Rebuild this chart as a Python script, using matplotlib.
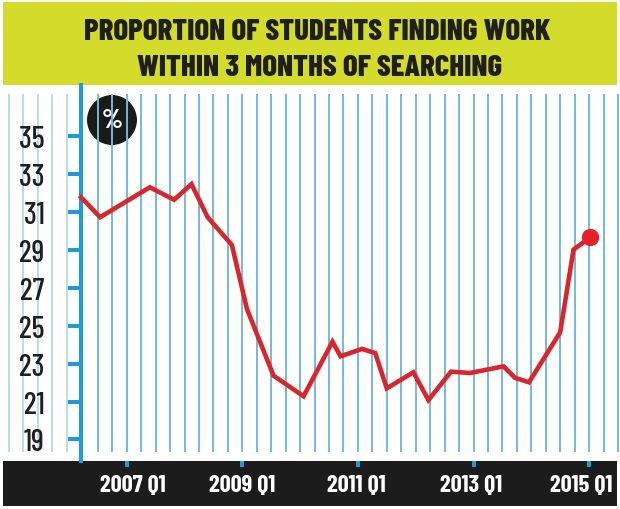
import matplotlib
matplotlib.use("Agg")
import matplotlib.pyplot as plt
from matplotlib import font_manager
from matplotlib.patches import Rectangle, Circle
from matplotlib.transforms import ScaledTranslation

# ---------------- data ----------------
years = [2006.21, 2006.54, 2007.40, 2007.82, 2008.12, 2008.40, 2008.82, 2009.08,
         2009.54, 2010.06, 2010.56, 2010.70, 2011.07, 2011.30, 2011.50, 2011.96,
         2012.22, 2012.61, 2012.94, 2013.52, 2013.72, 2013.96, 2014.50, 2014.73,
         2015.02]
values = [31.78, 30.73, 32.31, 31.65, 32.48, 30.73, 29.26, 25.89,
          22.37, 21.28, 24.16, 23.39, 23.78, 23.56, 21.70, 22.55,
          21.08, 22.58, 22.51, 22.86, 22.25, 22.02, 24.66, 29.02,
          29.67]
y_ticks = [19, 21, 23, 25, 27, 29, 31, 33, 35]
x_tick_years = [2007, 2009, 2011, 2013, 2015]
x_tick_labels = ["2007 Q1", "2009 Q1", "2011 Q1", "2013 Q1", "2015 Q1"]
title_lines = ["PROPORTION OF STUDENTS FINDING WORK", "WITHIN 3 MONTHS OF SEARCHING"]
unit_label = "%"

# ---------------- fonts ----------------
names = {f.name for f in font_manager.fontManager.ttflist}
FONT = "DejaVu Sans"
for cand in ["Barlow Condensed", "Archivo Narrow", "Asap Condensed",
             "Liberation Sans Narrow", "DejaVu Sans"]:
    if cand in names:
        FONT = cand
        break
FAM = [FONT, "DejaVu Sans"]

# ---------------- colours ----------------
BLUE = "#1b9bd7"
GRID = "#74b9d8"
GRID_LIGHT = "#b9dced"
RED = "#d8262c"
DOT = "#e5222b"
BAND = "#d4dc2b"
DARK = "#1c1c1c"
INK = "#1f1f1f"

W, H = 620, 510
fig = plt.figure(figsize=(W / 100, H / 100), dpi=100)
renderer = fig.canvas.get_renderer()

def fit_size(text, target_w, weight, max_size):
    t = fig.text(0, 0, text, family=FAM, fontsize=20, fontweight=weight)
    w = t.get_window_extent(renderer=renderer).width
    t.remove()
    return min(max_size, 20 * target_w / w)

fs_title = fit_size(title_lines[0], 466, "heavy", 40)
fs_x = fit_size(x_tick_labels[0], 66, "bold", 22)
fs_y = fit_size("35", 26, "medium", 22)
fs_pct = fit_size(unit_label, 21, "bold", 26)

# background axes in pixel coordinates
bg = fig.add_axes([0, 0, 1, 1], zorder=-1)
bg.set_xlim(0, W)
bg.set_ylim(H, 0)
bg.axis("off")
bg.add_patch(Rectangle((3, 3), W - 6, 83, color=BAND, lw=0))
bg.add_patch(Rectangle((3, 462), W - 6, 45, color=DARK, lw=0))

# main axes: left edge at the blue axis
px0, px1 = 81, 620
py_top, py_bot = 86, 462
ax = fig.add_axes([px0 / W, (H - py_bot) / H, (px1 - px0) / W, (py_bot - py_top) / H])
ax.set_facecolor("none")

# pixel <-> data mapping chosen from the reference
ppy = 57.8        # pixels per year
x_ref_px = 126.7  # px of 2007 Q1 grid line
def year_at(px):
    return 2007 + (px - x_ref_px) / ppy
ppv = 18.95       # pixels per percentage point
def val_at(py):
    return 35 - (py - 137.3) / ppv

ax.set_xlim(year_at(px0), year_at(px1))
ax.set_ylim(val_at(py_bot), val_at(py_top))

# quarterly vertical grid lines
g_lo, g_hi = val_at(453), val_at(95)
q = -2
while True:
    gx = 2007 + q * 0.25
    if gx > year_at(618.5):
        break
    ax.vlines(gx, g_lo, g_hi, color=GRID, lw=1.4, zorder=1)
    q += 1
# lighter lines left of the axis
for j in range(5):
    gx = year_at(66.7) - j * 0.25
    ax.vlines(gx, g_lo, g_hi, color=GRID_LIGHT, lw=1.4, zorder=1, clip_on=False)

# the data line
ax.plot(years, values, color=RED, lw=3.3, solid_joinstyle="miter", zorder=3, clip_on=False)
ax.plot(years[-1:], values[-1:], "o", color=DOT, ms=11.5, zorder=4, clip_on=False)

# spines
for s in ["top", "right", "bottom"]:
    ax.spines[s].set_visible(False)
ax.spines["left"].set_color(BLUE)
ax.spines["left"].set_linewidth(2.9)

# y ticks
ax.set_yticks(y_ticks)
ax.set_yticklabels([str(v) for v in y_ticks], family=FAM, fontsize=fs_y,
                   fontweight="medium", color=INK)
ax.tick_params(axis="y", direction="out", length=9.2, width=2.9, color=BLUE, pad=17)

# x ticks
ax.set_xticks(x_tick_years)
ax.set_xticklabels(x_tick_labels, family=FAM, fontsize=fs_x, fontweight="bold", color="white")
ax.tick_params(axis="x", direction="out", length=4.3, width=2.9, color=BLUE, pad=5)
# small horizontal nudges of the labels as in the reference layout
nudges_px = [6, 0, -2, -2, -8]
for lab, dx in zip(ax.get_xticklabels(), nudges_px):
    lab.set_transform(lab.get_transform() + ScaledTranslation(dx / 100, 0, fig.dpi_scale_trans))

# % badge
bg.add_patch(Circle((112, 121), 25, color="#1a1a1a", lw=0, zorder=2))
bg.text(112, 121, unit_label, family=FAM, fontsize=fs_pct, fontweight="bold",
        color="white", ha="center", va="center", zorder=3)

# title
bg.text(317, 32, title_lines[0], family=FAM, fontsize=fs_title, fontweight="heavy",
        color=INK, ha="center", va="center")
bg.text(320, 68, title_lines[1], family=FAM, fontsize=fs_title, fontweight="heavy",
        color=INK, ha="center", va="center")

fig.savefig("out.png", dpi=100)
